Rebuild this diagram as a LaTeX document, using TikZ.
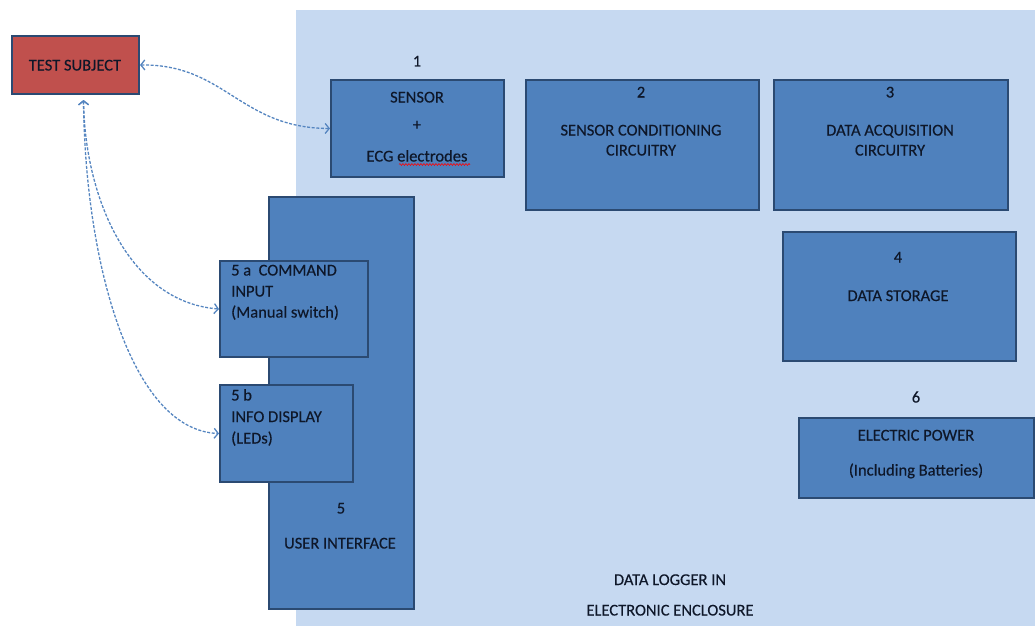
\documentclass[tikz,border=0pt]{standalone}
\usepackage{fontspec}
\setmainfont{Carlito}[FakeBold=0.3]
\usetikzlibrary{arrows.meta,decorations.pathmorphing}
\definecolor{encl}{HTML}{C6D9F1}
\definecolor{boxfill}{HTML}{4F81BD}
\definecolor{boxline}{HTML}{2B4A72}
\definecolor{subjfill}{HTML}{C0504D}
\definecolor{txt}{HTML}{0E1729}
\definecolor{linkc}{HTML}{5585C0}
\begin{document}
\begin{tikzpicture}[x=1pt,y=-1pt,
  box/.style={draw=boxline, line width=2pt, fill=boxfill, anchor=north west, inner sep=0pt},
  lbl/.style={text=txt, font=\fontsize{16.5}{20}\selectfont, inner sep=0pt, anchor=base},
  lbll/.style={lbl, anchor=base west},
  linkline/.style={draw=linkc, line width=1.3pt, dash pattern=on 3pt off 1.6pt,
    {Straight Barb[length=4pt,width=10pt]}-{Straight Barb[length=4pt,width=10pt]}}]
\useasboundingbox (0,0) rectangle (1035,626);
% enclosure
\fill[encl] (296,10) rectangle (1035,626);
% boxes
\node[box, fill=subjfill, draw=boxline, minimum width=127pt, minimum height=58pt] (ts) at (11,35) {};
\node[box, minimum width=173pt, minimum height=97pt] (s1) at (330,79) {};
\node[box, minimum width=233pt, minimum height=130pt] (b2) at (525,79) {};
\node[box, minimum width=234pt, minimum height=130pt] (b3) at (773,79) {};
\node[box, minimum width=233pt, minimum height=129pt] (b4) at (782,231) {};
\node[box, minimum width=235pt, minimum height=80pt] (b6) at (798,417) {};
\node[box, minimum width=145pt, minimum height=412pt] (b5) at (268,196) {};
\node[box, minimum width=148pt, minimum height=96pt] (b5a) at (219,260) {};
\node[box, minimum width=133pt, minimum height=97pt] (b5b) at (219,384) {};
% labels
\node[lbl] (tst) at (75,70.5) {TEST SUBJECT};
\node[lbl] (n1) at (417,66.5) {1};
\node[lbl] (s1a) at (417,102.5) {SENSOR};
\node[lbl] (s1b) at (417,130) {+};
\node[lbl] (s1c) at (417,161.5) {ECG electrodes};
\draw[red, line width=0.6pt, decorate, decoration={snake, amplitude=0.9pt, segment length=3pt}] (399,164.5) -- (470,164.5);
\node[lbl] (n2) at (641,97.5) {2};
\node[lbl] (b2a) at (641,135.5) {SENSOR CONDITIONING};
\node[lbl] (b2b) at (641,155.5) {CIRCUITRY};
\node[lbl] (n3) at (890,97.5) {3};
\node[lbl] (b3a) at (890,135.5) {DATA ACQUISITION};
\node[lbl] (b3b) at (890,155.5) {CIRCUITRY};
\node[lbl] (n4) at (898,262.5) {4};
\node[lbl] (b4a) at (898,301) {DATA STORAGE};
\node[lbl] (n6) at (916,402.5) {6};
\node[lbl] (b6a) at (916,440.5) {ELECTRIC POWER};
\node[lbl] (b6b) at (916,475.5) {(Including Batteries)};
\node[lbll] (a1) at (231,275.5) {5 a\ \ COMMAND};
\node[lbll] (a2) at (231,296.5) {INPUT};
\node[lbll] (a3) at (231,317.5) {(Manual switch)};
\node[lbll] (c1) at (231,400.5) {5 b};
\node[lbll] (c2) at (231,422) {INFO DISPLAY};
\node[lbll] (c3) at (231,443.5) {(LEDs)};
\node[lbl] (n5) at (341,513.5) {5};
\node[lbl] (b5t) at (340,548.5) {USER INTERFACE};
\node[lbl] (dl1) at (670,585) {DATA LOGGER IN};
\node[lbl] (dl2) at (670,615.5) {ELECTRONIC ENCLOSURE};
% connectors
\draw[linkline] (ts.east) .. controls (225,64) and (240,128) .. (s1.west);
\draw[linkline] ([xshift=8pt,yshift=-5pt]ts.south) .. controls (85,200) and (130,302) .. (b5a.west);
\draw[linkline] ([xshift=8pt,yshift=-5pt]ts.south) .. controls (85,260) and (130,430) .. (b5b.west);
\end{tikzpicture}
\end{document}
